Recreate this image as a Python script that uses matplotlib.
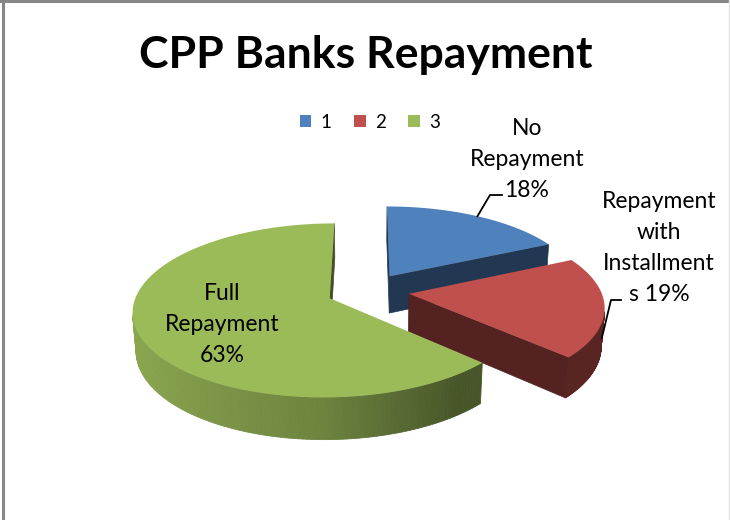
import numpy as np
import matplotlib
matplotlib.use("Agg")
import matplotlib.pyplot as plt
from matplotlib.patches import Polygon
from matplotlib.path import Path
from matplotlib.transforms import Transform
from matplotlib.colors import to_rgb

# data
categories = ["No Repayment", "Repayment with Installments", "Full Repayment"]
values = [18, 19, 63]
legend_labels = ["1", "2", "3"]
# category names wrapped the way the chart breaks them
wrapped_names = ["No\nRepayment\n", "Repayment\nwith\nInstallment\ns ", "Full\nRepayment\n"]
top_colors = ["#4f81bd", "#c0504d", "#9bbb59"]

# layout (pixels)
W, H = 730, 520
R = 192                 # pie radius
CX, CY = 368, 291       # where the pie centre lands
TILT = np.radians(25.7)
DIST = 6.5              # camera distance, in radii
THICK = 0.22            # pie thickness, in radii
EXPLODE = 0.215

plt.rcParams['font.family'] = ['Lato', 'DejaVu Sans']


def project(X, Y, Z=0.0):
    X = np.asarray(X, float)
    Y = np.asarray(Y, float)
    Z = np.asarray(Z, float)
    w = Y * np.cos(TILT) - Z * np.sin(TILT)
    k = DIST / (DIST + w)
    return CX + R * X * k, CY - R * (Y * np.sin(TILT) + Z * np.cos(TILT)) * k


class Tilt(Transform):
    # lays the flat pie down on the table
    input_dims = output_dims = 2

    def transform_non_affine(self, values):
        v = np.asarray(values, float)
        return np.column_stack(project(v[:, 0], v[:, 1]))

    def transform_path_non_affine(self, path):
        t = np.linspace(0, 1, 30)
        pts = np.concatenate([seg(t) for seg, _ in path.iter_bezier()])
        return Path(self.transform_non_affine(pts), closed=True)


def shade(color, f):
    return tuple(np.clip(np.array(to_rgb(color)) * f, 0, 1))


def wall_factor(theta):
    c = np.cos(theta)
    return max(0.46, 0.7 - (0.2 if c < 0 else 0.39) * c)


fig = plt.figure(figsize=(W / 100, H / 100), dpi=100)
ax = fig.add_axes([0, 0, 1, 1])

wedges, _ = ax.pie(values, colors=top_colors, startangle=90, counterclock=False,
                   explode=[EXPLODE] * len(values), wedgeprops=dict(linewidth=0))
ax.set_aspect('auto')
ax.set_xlim(0, W)
ax.set_ylim(H, 0)
ax.axis('off')

eye_y = -DIST * np.cos(TILT)
order = sorted(range(len(wedges)), key=lambda i: -wedges[i].center[1])
for z, i in enumerate(order):
    w = wedges[i]
    cx, cy = w.center
    t1, t2 = np.radians(w.theta1), np.radians(w.theta2)
    base = top_colors[i]
    zb = 2 * z + 1

    # cut faces
    for t, sgn in ((t1, 1), (t2, -1)):
        nx, ny = sgn * np.sin(t), -sgn * np.cos(t)
        if nx * (-cx) + ny * (eye_y - cy) > 0:
            X = [cx, cx + np.cos(t), cx + np.cos(t), cx]
            Y = [cy, cy + np.sin(t), cy + np.sin(t), cy]
            px, py = project(X, Y, [0, 0, -THICK, -THICK])
            col = shade(base, 0.43)
            ax.add_patch(Polygon(np.column_stack([px, py]), closed=True,
                                 fc=col, ec=col, lw=0.5, zorder=zb))

    # outer wall
    th = np.linspace(t1, t2, 200)
    for a, b in zip(th[:-1], th[1:]):
        m = 0.5 * (a + b)
        if -cx * np.cos(m) + np.sin(m) * (eye_y - cy) - 1 > 0:
            X = [cx + np.cos(a), cx + np.cos(b), cx + np.cos(b), cx + np.cos(a)]
            Y = [cy + np.sin(a), cy + np.sin(b), cy + np.sin(b), cy + np.sin(a)]
            px, py = project(X, Y, [0, 0, -THICK, -THICK])
            col = shade(base, wall_factor(m))
            ax.add_patch(Polygon(np.column_stack([px, py]), closed=True,
                                 fc=col, ec=col, lw=0.6, zorder=zb))

    w.set_transform(Tilt() + ax.transData)
    w.set_zorder(zb + 1)

# data labels
total = sum(values)
label_x = [527, 659, 222]
label_y0 = [135, 208, 300]
line_step = 31
for i, name in enumerate(wrapped_names):
    text = name + f"{round(100 * values[i] / total)}%"
    for j, line in enumerate(text.split("\n")):
        ax.text(label_x[i], label_y0[i] + j * line_step, line, ha='center',
                va='baseline', fontsize=16.5, zorder=20)

# leader lines for the two small slices
elbows = {0: ((490, 195), 502, 0.0), 1: ((611, 300), 621, -0.8 * THICK)}
for i, ((ex, ey), tx, zz) in elbows.items():
    w = wedges[i]
    m = np.radians(0.5 * (w.theta1 + w.theta2))
    sx, sy = project(w.center[0] + np.cos(m), w.center[1] + np.sin(m), zz)
    ax.plot([sx, ex, tx], [sy, ey, ey], color='black', lw=1.3, zorder=20)

ax.legend(wedges, legend_labels, loc='center', bbox_to_anchor=(370, 122),
          bbox_transform=ax.transData, ncol=3, frameon=False, fontsize=13.5,
          handlelength=0.6, handleheight=0.6, handletextpad=0.5,
          columnspacing=1.2, borderpad=0)

ax.text(366, 68, "CPP Banks Repayment", ha='center', va='baseline',
        fontsize=32, fontweight='bold')

# chart area border
ax.plot([2.5, 2.5], [0, H], color='#878787', lw=2.2, clip_on=False)
ax.plot([0, W], [1, 1], color='#878787', lw=2.2, clip_on=False)
ax.plot([729, 729], [0, H], color='#e4e4e4', lw=1, clip_on=False)

fig.savefig("out.png", dpi=100)
